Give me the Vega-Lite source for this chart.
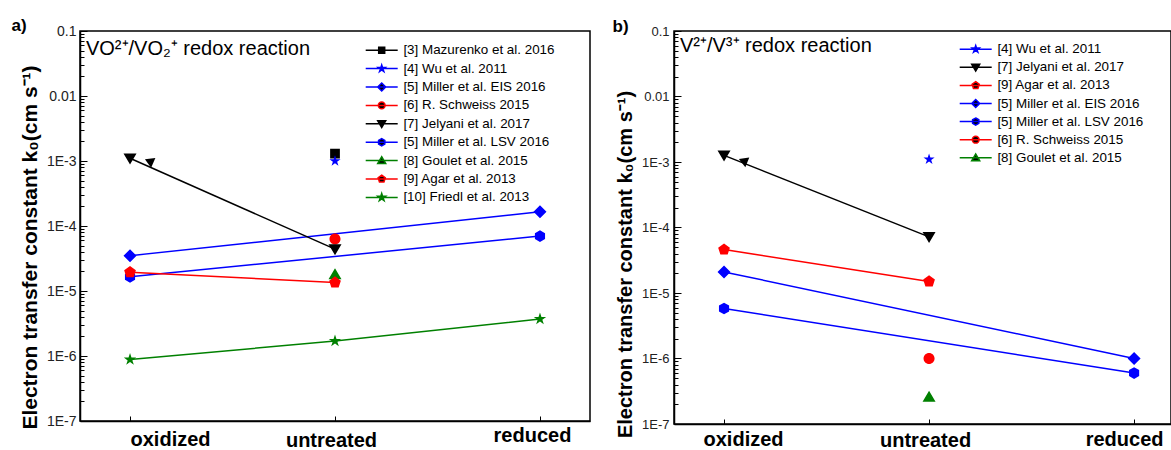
{
  "$schema": "https://vega.github.io/schema/vega-lite/v6.json",
  "background": "white",
  "padding": {"left": 10, "top": 16, "right": 0, "bottom": 0},
  "config": {
    "font": "Liberation Sans",
    "view": {"stroke": "black", "strokeWidth": 1.5},
    "axis": {"grid": false, "domainColor": "black", "domainWidth": 1.5, "tickColor": "black", "tickWidth": 1}
  },
  "datasets": {
    "a": [
      {"series": "[3] Mazurenko et al. 2016", "cond": 1, "k": 0.0013},
      {"series": "[4] Wu et al. 2011", "cond": 1, "k": 0.001},
      {"series": "[5] Miller et al. EIS 2016", "cond": 0, "k": 0.000035},
      {"series": "[5] Miller et al. EIS 2016", "cond": 2, "k": 0.000165},
      {"series": "[6] R. Schweiss 2015", "cond": 1, "k": 0.000063},
      {"series": "[7] Jelyani et al. 2017", "cond": 0, "k": 0.0011},
      {"series": "[7] Jelyani et al. 2017", "cond": 1, "k": 0.000044},
      {"series": "[5] Miller et al. LSV 2016", "cond": 0, "k": 0.0000165},
      {"series": "[5] Miller et al. LSV 2016", "cond": 2, "k": 0.00007},
      {"series": "[8] Goulet et al. 2015", "cond": 1, "k": 0.000018},
      {"series": "[9] Agar et al. 2013", "cond": 0, "k": 0.0000195},
      {"series": "[9] Agar et al. 2013", "cond": 1, "k": 0.0000135},
      {"series": "[10] Friedl et al. 2013", "cond": 0, "k": 0.00000088},
      {"series": "[10] Friedl et al. 2013", "cond": 1, "k": 0.0000017},
      {"series": "[10] Friedl et al. 2013", "cond": 2, "k": 0.0000037}
    ],
    "b": [
      {"series": "[4] Wu et al. 2011", "cond": 1, "k": 0.0011},
      {"series": "[7] Jelyani et al. 2017", "cond": 0, "k": 0.00126},
      {"series": "[7] Jelyani et al. 2017", "cond": 1, "k": 0.000072},
      {"series": "[9] Agar et al. 2013", "cond": 0, "k": 0.000046},
      {"series": "[9] Agar et al. 2013", "cond": 1, "k": 0.000015},
      {"series": "[5] Miller et al. EIS 2016", "cond": 0, "k": 0.000021},
      {"series": "[5] Miller et al. EIS 2016", "cond": 2, "k": 0.000001},
      {"series": "[5] Miller et al. LSV 2016", "cond": 0, "k": 0.0000058},
      {"series": "[5] Miller et al. LSV 2016", "cond": 2, "k": 0.0000006},
      {"series": "[6] R. Schweiss 2015", "cond": 1, "k": 0.000001},
      {"series": "[8] Goulet et al. 2015", "cond": 1, "k": 0.00000026}
    ]
  },
  "spacing": 20,
  "resolve": {
    "scale": {"x": "independent", "y": "independent", "color": "independent", "shape": "independent", "stroke": "independent"},
    "legend": {"color": "independent", "shape": "independent", "stroke": "independent"}
  },
  "hconcat": [
    {
      "width": 510,
      "height": 390,
      "title": {"text": "a)", "anchor": "start", "frame": "bounds", "fontSize": 17, "fontWeight": "bold", "font": "Liberation Sans", "color": "black", "dx": -8, "offset": -11},
      "resolve": {"scale": {"color": "independent"}, "legend": {"color": "independent"}},
      "encoding": {
        "x": {"field": "cond", "type": "quantitative", "scale": {"domain": [-0.244, 2.244], "nice": false, "zero": false},
          "axis": {"title": null, "values": [0, 1, 2], "labelExpr": "['oxidized','untreated','reduced'][datum.value]", "labelFontSize": 20, "labelFontWeight": "bold", "labelColor": "black", "labelBaseline": "alphabetic", "labelFlush": false, "labelOverlap": false, "tickSize": -5,
            "labelPadding": {"condition": [{"test": "datum.value == 0", "value": 29}, {"test": "datum.value == 1", "value": 30}], "value": 25},
            "labelOffset": {"condition": [{"test": "datum.value == 0", "value": 40}, {"test": "datum.value == 1", "value": -4}], "value": -8}}},
        "y": {"field": "k", "type": "quantitative", "scale": {"type": "log", "domain": [1e-7, 0.1], "nice": false},
          "axis": {"title": "Electron transfer constant k₀(cm s⁻¹)", "titleFontSize": 21, "titleFontWeight": "bold", "titleColor": "black", "titlePadding": 6, "titleY": 216,
            "values": [1e-7, 2e-7, 3e-7, 4e-7, 5e-7, 6e-7, 7e-7, 8e-7, 9e-7, 1e-6, 2e-6, 3e-6, 4e-6, 5e-6, 6e-6, 7e-6, 8e-6, 9e-6, 1e-5, 2e-5, 3e-5, 4e-5, 5e-5, 6e-5, 7e-5, 8e-5, 9e-5, 1e-4, 2e-4, 3e-4, 4e-4, 5e-4, 6e-4, 7e-4, 8e-4, 9e-4, 0.001, 0.002, 0.003, 0.004, 0.005, 0.006, 0.007, 0.008, 0.009, 0.01, 0.02, 0.03, 0.04, 0.05, 0.06, 0.07, 0.08, 0.09, 0.1],
            "labelExpr": "abs(log(datum.value)/LN10 - round(log(datum.value)/LN10)) < 0.001 ? (datum.value > 0.05 ? '0.1' : datum.value > 0.005 ? '0.01' : '1E' + round(log(datum.value)/LN10)) : ''",
            "labelOverlap": false, "labelFontSize": 14, "labelColor": "#222222", "labelPadding": 11, "labelFlush": false,
            "tickSize": {"condition": {"test": "abs(log(datum.value)/LN10 - round(log(datum.value)/LN10)) < 0.001", "value": -7}, "value": -4}}}
      },
      "layer": [
        {"data": {"name": "a"}, "mark": {"type": "line", "strokeWidth": 1.5},
          "encoding": {"color": {"field": "series", "type": "nominal", "legend": null,
            "scale": {"domain": ["[3] Mazurenko et al. 2016", "[4] Wu et al. 2011", "[5] Miller et al. EIS 2016", "[6] R. Schweiss 2015", "[7] Jelyani et al. 2017", "[5] Miller et al. LSV 2016", "[8] Goulet et al. 2015", "[9] Agar et al. 2013", "[10] Friedl et al. 2013"],
              "range": ["#000000", "#0000ff", "#0000ff", "#ff0000", "#000000", "#0000ff", "#008000", "#ff0000", "#008000"]}}}},
        {"data": {"values": [{"cond": 0.093, "k": 0.001}]}, "mark": {"type": "point", "shape": "triangle-left", "angle": 24, "filled": true, "color": "black", "size": 110, "opacity": 1}},
        {"data": {"name": "a"}, "mark": {"type": "point", "filled": true, "size": 169, "opacity": 1, "strokeWidth": 0},
          "encoding": {
            "color": {"field": "series", "type": "nominal", "legend": null,
              "scale": {"domain": ["[3] Mazurenko et al. 2016", "[4] Wu et al. 2011", "[5] Miller et al. EIS 2016", "[6] R. Schweiss 2015", "[7] Jelyani et al. 2017", "[5] Miller et al. LSV 2016", "[8] Goulet et al. 2015", "[9] Agar et al. 2013", "[10] Friedl et al. 2013"],
                "range": ["#000000", "#0000ff", "#0000ff", "#ff0000", "#000000", "#0000ff", "#008000", "#ff0000", "#008000"]}},
            "stroke": {"field": "series", "type": "nominal",
              "scale": {"domain": ["[3] Mazurenko et al. 2016", "[4] Wu et al. 2011", "[5] Miller et al. EIS 2016", "[6] R. Schweiss 2015", "[7] Jelyani et al. 2017", "[5] Miller et al. LSV 2016", "[8] Goulet et al. 2015", "[9] Agar et al. 2013", "[10] Friedl et al. 2013"],
                "range": ["#000000", "#0000ff", "#0000ff", "#ff0000", "#000000", "#0000ff", "#008000", "#ff0000", "#008000"]}},
            "shape": {"field": "series", "type": "nominal",
              "legend": {"title": null, "orient": "none", "legendX": 295, "legendY": 12.5, "padding": 0, "rowPadding": 3.4, "labelFontSize": 13.4, "labelFont": "Liberation Sans", "labelColor": "black", "symbolSize": 64, "labelOffset": 15, "symbolStrokeWidth": 1.5, "labelLimit": 300,
                "encode": {"symbols": {"update": {"strokeWidth": {"value": 1.5}, "opacity": {"value": 1}}}}},
              "scale": {"domain": ["[3] Mazurenko et al. 2016", "[4] Wu et al. 2011", "[5] Miller et al. EIS 2016", "[6] R. Schweiss 2015", "[7] Jelyani et al. 2017", "[5] Miller et al. LSV 2016", "[8] Goulet et al. 2015", "[9] Agar et al. 2013", "[10] Friedl et al. 2013"],
                "range": [
                  "M-4,0L4,0M-0.75,-0.75L0.75,-0.75L0.75,0.75L-0.75,0.75Z",
                  "M-4,0L4,0M0,-0.9L0.202,-0.278L0.856,-0.278L0.327,0.106L0.529,0.728L0,0.344L-0.529,0.728L-0.327,0.106L-0.856,-0.278L-0.202,-0.278Z",
                  "M-4,0L4,0M0,-1L1,0L0,1L-1,0Z",
                  "M-4,0L4,0M-0.85,0A0.85,0.85,0,1,1,0.85,0A0.85,0.85,0,1,1,-0.85,0Z",
                  "M-4,0L4,0M-1,-0.75L1,-0.75L0,0.95Z",
                  "M-4,0L4,0M0,-0.9L0.78,-0.45L0.78,0.45L0,0.9L-0.78,0.45L-0.78,-0.45Z",
                  "M-4,0L4,0M-1,0.75L1,0.75L0,-0.95Z",
                  "M-4,0L4,0M0,-0.95L0.9,-0.29L0.56,0.77L-0.56,0.77L-0.9,-0.29Z",
                  "M-4,0L4,0M0,-1L0.2245,-0.309L0.951,-0.309L0.363,0.118L0.588,0.809L0,0.382L-0.588,0.809L-0.363,0.118L-0.951,-0.309L-0.2245,-0.309Z"
                ]}}
          }},
        {"data": {"values": [{"cond": -0.215, "k": 0.043, "label": "VO²⁺/VO₂⁺ redox reaction"}]}, "mark": {"type": "text", "align": "left", "baseline": "alphabetic", "fontSize": 20, "font": "Liberation Sans", "color": "black"},
          "encoding": {"text": {"field": "label"}}}
      ]
    },
    {
      "width": 497,
      "height": 393,
      "title": {"text": "b)", "anchor": "start", "frame": "bounds", "fontSize": 17, "fontWeight": "bold", "font": "Liberation Sans", "color": "black", "dx": -3, "offset": -11},
      "resolve": {"scale": {"color": "independent"}, "legend": {"color": "independent"}},
      "encoding": {
        "x": {"field": "cond", "type": "quantitative", "scale": {"domain": [-0.244, 2.18], "nice": false, "zero": false},
          "axis": {"title": null, "values": [0, 1, 2], "labelExpr": "['oxidized','untreated','reduced'][datum.value]", "labelFontSize": 20, "labelFontWeight": "bold", "labelColor": "black", "labelBaseline": "alphabetic", "labelFlush": false, "labelOverlap": false, "tickSize": -5,
            "labelPadding": {"condition": [{"test": "datum.value == 0", "value": 26}, {"test": "datum.value == 1", "value": 27}], "value": 26},
            "labelOffset": {"condition": [{"test": "datum.value == 0", "value": 19}, {"test": "datum.value == 1", "value": -4}], "value": -10}}},
        "y": {"field": "k", "type": "quantitative", "scale": {"type": "log", "domain": [1e-7, 0.1], "nice": false},
          "axis": {"title": "Electron transfer constant k₀(cm s⁻¹)", "titleFontSize": 20, "titleFontWeight": "bold", "titleColor": "black", "titlePadding": 6, "titleY": 233,
            "values": [1e-7, 2e-7, 3e-7, 4e-7, 5e-7, 6e-7, 7e-7, 8e-7, 9e-7, 1e-6, 2e-6, 3e-6, 4e-6, 5e-6, 6e-6, 7e-6, 8e-6, 9e-6, 1e-5, 2e-5, 3e-5, 4e-5, 5e-5, 6e-5, 7e-5, 8e-5, 9e-5, 1e-4, 2e-4, 3e-4, 4e-4, 5e-4, 6e-4, 7e-4, 8e-4, 9e-4, 0.001, 0.002, 0.003, 0.004, 0.005, 0.006, 0.007, 0.008, 0.009, 0.01, 0.02, 0.03, 0.04, 0.05, 0.06, 0.07, 0.08, 0.09, 0.1],
            "labelExpr": "abs(log(datum.value)/LN10 - round(log(datum.value)/LN10)) < 0.001 ? (datum.value > 0.05 ? '0.1' : datum.value > 0.005 ? '0.01' : '1E' + round(log(datum.value)/LN10)) : ''",
            "labelOverlap": false, "labelFontSize": 13, "labelColor": "#222222", "labelPadding": 12, "labelFlush": false,
            "tickSize": {"condition": {"test": "abs(log(datum.value)/LN10 - round(log(datum.value)/LN10)) < 0.001", "value": -7}, "value": -4}}}
      },
      "layer": [
        {"data": {"name": "b"}, "mark": {"type": "line", "strokeWidth": 1.5},
          "encoding": {"color": {"field": "series", "type": "nominal", "legend": null,
            "scale": {"domain": ["[4] Wu et al. 2011", "[7] Jelyani et al. 2017", "[9] Agar et al. 2013", "[5] Miller et al. EIS 2016", "[5] Miller et al. LSV 2016", "[6] R. Schweiss 2015", "[8] Goulet et al. 2015"],
              "range": ["#0000ff", "#000000", "#ff0000", "#0000ff", "#0000ff", "#ff0000", "#008000"]}}}},
        {"data": {"values": [{"cond": 0.093, "k": 0.00105}]}, "mark": {"type": "point", "shape": "triangle-left", "angle": 22, "filled": true, "color": "black", "size": 110, "opacity": 1}},
        {"data": {"name": "b"}, "mark": {"type": "point", "filled": true, "size": 169, "opacity": 1, "strokeWidth": 0},
          "encoding": {
            "color": {"field": "series", "type": "nominal", "legend": null,
              "scale": {"domain": ["[4] Wu et al. 2011", "[7] Jelyani et al. 2017", "[9] Agar et al. 2013", "[5] Miller et al. EIS 2016", "[5] Miller et al. LSV 2016", "[6] R. Schweiss 2015", "[8] Goulet et al. 2015"],
                "range": ["#0000ff", "#000000", "#ff0000", "#0000ff", "#0000ff", "#ff0000", "#008000"]}},
            "stroke": {"field": "series", "type": "nominal",
              "scale": {"domain": ["[4] Wu et al. 2011", "[7] Jelyani et al. 2017", "[9] Agar et al. 2013", "[5] Miller et al. EIS 2016", "[5] Miller et al. LSV 2016", "[6] R. Schweiss 2015", "[8] Goulet et al. 2015"],
                "range": ["#0000ff", "#000000", "#ff0000", "#0000ff", "#0000ff", "#ff0000", "#008000"]}},
            "shape": {"field": "series", "type": "nominal",
              "legend": {"title": null, "orient": "none", "legendX": 295, "legendY": 11.5, "padding": 0, "rowPadding": 3.1, "labelFontSize": 13.4, "labelFont": "Liberation Sans", "labelColor": "black", "symbolSize": 64, "labelOffset": 15, "symbolStrokeWidth": 1.5, "labelLimit": 300,
                "encode": {"symbols": {"update": {"strokeWidth": {"value": 1.5}, "opacity": {"value": 1}}}}},
              "scale": {"domain": ["[4] Wu et al. 2011", "[7] Jelyani et al. 2017", "[9] Agar et al. 2013", "[5] Miller et al. EIS 2016", "[5] Miller et al. LSV 2016", "[6] R. Schweiss 2015", "[8] Goulet et al. 2015"],
                "range": [
                  "M-4,0L4,0M0,-0.9L0.202,-0.278L0.856,-0.278L0.327,0.106L0.529,0.728L0,0.344L-0.529,0.728L-0.327,0.106L-0.856,-0.278L-0.202,-0.278Z",
                  "M-4,0L4,0M-1,-0.75L1,-0.75L0,0.95Z",
                  "M-4,0L4,0M0,-0.95L0.9,-0.29L0.56,0.77L-0.56,0.77L-0.9,-0.29Z",
                  "M-4,0L4,0M0,-1L1,0L0,1L-1,0Z",
                  "M-4,0L4,0M0,-0.9L0.78,-0.45L0.78,0.45L0,0.9L-0.78,0.45L-0.78,-0.45Z",
                  "M-4,0L4,0M-0.85,0A0.85,0.85,0,1,1,0.85,0A0.85,0.85,0,1,1,-0.85,0Z",
                  "M-4,0L4,0M-1,0.75L1,0.75L0,-0.95Z"
                ]}}
          }},
        {"data": {"values": [{"cond": -0.215, "k": 0.048, "label": "V²⁺/V³⁺ redox reaction"}]}, "mark": {"type": "text", "align": "left", "baseline": "alphabetic", "fontSize": 20, "font": "Liberation Sans", "color": "black"},
          "encoding": {"text": {"field": "label"}}}
      ]
    }
  ]
}
